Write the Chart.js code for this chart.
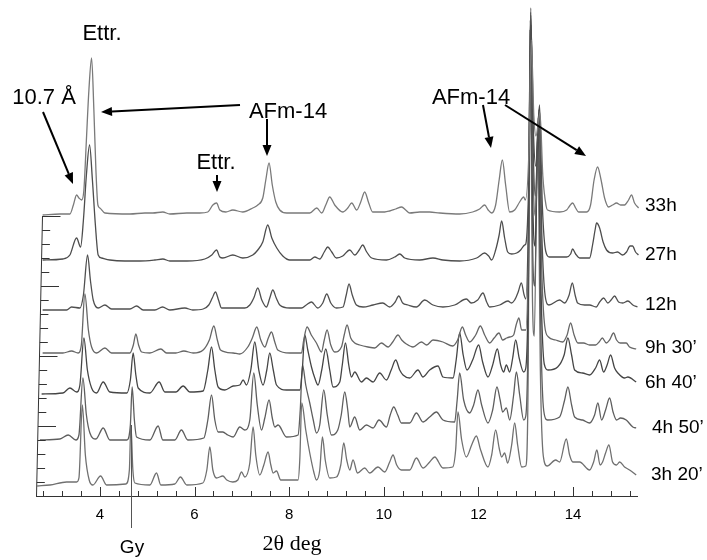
<!DOCTYPE html>
<html><head><meta charset="utf-8">
<script src="https://cdn.jsdelivr.net/npm/chart.js@4/dist/chart.umd.min.js"></script>
<style>html,body{margin:0;padding:0;background:#fff}#wrap{width:707px;height:560px}</style>
</head><body><div id="wrap"><canvas id="c"></canvas></div>
<script>
// ---- data: 2θ (deg) vs stacked intensity (a.u.) ----
const seriesNames = ["33h", "27h", "12h", "9h 30\u2019", "6h 40\u2019", "4h 50\u2019", "3h 20\u2019"];

const trace33h = [[2.79,281],[3.155,282],[3.366,282],[3.44,291],[3.508,301],[3.557,298],[3.614,296],[3.662,306],[3.715,356],[3.768,406],[3.825,438],[3.873,386],[3.916,326],[3.958,291],[4.0,288],[4.106,283],[4.634,282],[4.951,283],[5.119,283],[5.33,284],[5.478,282],[5.837,283],[6.111,283],[6.281,284],[6.387,291],[6.465,293],[6.534,286],[6.661,284],[6.809,286],[7.02,284],[7.231,288],[7.337,291],[7.442,298],[7.506,316],[7.575,333],[7.643,311],[7.717,294],[7.801,286],[7.949,283],[8.435,283],[8.583,288],[8.688,283],[8.773,291],[8.857,299],[8.963,291],[9.132,284],[9.238,288],[9.322,293],[9.427,286],[9.512,294],[9.596,304],[9.681,293],[9.765,284],[10.019,284],[10.124,285],[10.251,287],[10.378,289],[10.462,286],[10.547,283],[10.758,284],[10.969,284],[11.181,283],[11.603,282],[11.877,284],[12.025,287],[12.131,291],[12.205,286],[12.279,283],[12.363,291],[12.437,316],[12.505,336],[12.574,311],[12.659,284],[12.765,286],[12.87,294],[12.955,299],[12.99,296],[13.07,350],[13.115,456],[13.17,380],[13.215,360],[13.30,383],[13.36,320],[13.43,290],[13.46,286],[13.715,284],[13.863,286],[13.926,290],[13.989,293],[14.053,288],[14.116,284],[14.285,284],[14.369,291],[14.443,316],[14.517,329],[14.591,316],[14.665,298],[14.75,289],[14.834,291],[14.918,293],[15.003,291],[15.087,291],[15.172,296],[15.235,301],[15.298,293],[15.383,288]];

const trace27h = [[2.79,236],[3.219,237],[3.366,241],[3.508,258],[3.592,249],[3.652,276],[3.715,321],[3.782,351],[3.842,316],[3.905,271],[3.964,241],[4.036,238],[4.211,236],[4.528,235],[4.845,235],[5.162,236],[5.33,237],[5.478,235],[5.837,235],[6.217,237],[6.365,241],[6.465,246],[6.534,239],[6.598,238],[6.809,241],[7.02,238],[7.231,241],[7.337,246],[7.442,254],[7.548,271],[7.633,258],[7.738,248],[7.865,240],[8.013,236],[8.435,236],[8.541,239],[8.646,237],[8.741,244],[8.815,249],[8.9,244],[8.999,238],[9.132,240],[9.28,246],[9.385,241],[9.48,246],[9.554,251],[9.639,244],[9.744,238],[10.055,236],[10.23,239],[10.336,242],[10.441,238],[10.758,236],[11.039,238],[11.25,236],[11.603,235],[11.962,238],[12.131,243],[12.215,240],[12.279,236],[12.363,246],[12.437,261],[12.49,275],[12.553,258],[12.617,244],[12.701,242],[12.807,243],[12.891,246],[12.976,251],[13.0,252],[13.065,320],[13.11,471],[13.165,360],[13.21,330],[13.29,391],[13.35,290],[13.42,245],[13.50,239],[13.863,239],[13.947,242],[13.989,247],[14.053,242],[14.137,238],[14.348,238],[14.411,251],[14.464,266],[14.496,273],[14.56,268],[14.634,254],[14.707,246],[14.834,243],[14.939,244],[15.045,241],[15.129,244],[15.203,250],[15.256,250],[15.319,244],[15.38,241]];

const trace12h = [[2.79,186],[3.297,186],[3.402,189],[3.578,188],[3.652,201],[3.74,241],[3.799,216],[3.859,196],[3.964,188],[4.106,191],[4.247,187],[4.634,187],[4.775,190],[4.916,186],[5.162,186],[5.324,189],[5.478,186],[5.795,188],[5.964,186],[6.182,187],[6.301,191],[6.375,198],[6.443,204],[6.507,196],[6.57,188],[6.745,188],[7.062,188],[7.168,191],[7.252,198],[7.337,208],[7.421,196],[7.52,189],[7.59,198],[7.654,206],[7.727,198],[7.801,191],[8.013,188],[8.26,188],[8.361,191],[8.471,194],[8.604,188],[8.71,193],[8.794,202],[8.879,193],[8.999,188],[9.138,189],[9.206,201],[9.265,212],[9.333,201],[9.421,191],[9.561,189],[9.773,191],[9.977,193],[10.124,189],[10.24,194],[10.315,200],[10.399,193],[10.511,191],[10.688,189],[10.864,196],[11.039,191],[11.25,189],[11.497,191],[11.744,197],[11.848,193],[11.983,196],[12.095,203],[12.173,194],[12.236,189],[12.448,191],[12.624,195],[12.695,193],[12.765,196],[12.839,204],[12.906,213],[12.965,201],[13.0,197],[13.06,290],[13.105,481],[13.16,340],[13.20,300],[13.28,383],[13.34,260],[13.41,200],[13.49,191],[13.715,196],[13.821,193],[13.916,201],[13.983,213],[14.042,201],[14.095,193],[14.243,191],[14.348,191],[14.489,189],[14.56,194],[14.644,198],[14.735,193],[14.802,196],[14.876,200],[14.96,194],[15.052,193],[15.157,195],[15.262,191],[15.36,189]];

const trace9h30 = [[2.79,143],[3.219,143],[3.402,145],[3.541,143],[3.608,151],[3.683,202],[3.757,166],[3.825,149],[3.93,143],[4.106,148],[4.247,143],[4.634,143],[4.707,151],[4.76,162],[4.817,151],[4.881,144],[5.056,143],[5.288,147],[5.409,143],[5.605,143],[5.774,145],[5.971,143],[6.182,146],[6.313,156],[6.408,170],[6.482,156],[6.549,146],[6.816,143],[6.957,142],[7.126,149],[7.221,158],[7.316,169],[7.4,156],[7.485,149],[7.559,158],[7.626,164],[7.696,154],[7.759,146],[8.013,143],[8.26,143],[8.308,156],[8.378,169],[8.467,161],[8.576,153],[8.682,144],[8.741,156],[8.801,166],[8.879,151],[8.963,144],[9.104,149],[9.163,161],[9.223,171],[9.301,158],[9.385,153],[9.491,151],[9.666,149],[9.807,148],[9.949,153],[10.089,149],[10.188,154],[10.3,161],[10.378,156],[10.477,152],[10.617,149],[10.794,154],[10.906,151],[11.039,156],[11.25,154],[11.455,150],[11.56,156],[11.66,169],[11.729,161],[11.814,154],[11.941,161],[12.04,170],[12.131,161],[12.236,153],[12.331,158],[12.433,163],[12.511,156],[12.596,158],[12.659,159],[12.743,161],[12.796,171],[12.855,178],[12.912,166],[13.0,166],[13.06,260],[13.105,488],[13.155,320],[13.20,280],[13.275,386],[13.335,230],[13.40,170],[13.48,159],[13.631,156],[13.778,154],[13.873,161],[13.947,173],[14.021,161],[14.101,153],[14.221,153],[14.348,151],[14.475,151],[14.549,154],[14.617,158],[14.701,153],[14.771,156],[14.855,163],[14.918,156],[14.996,153],[15.122,153],[15.193,149],[15.333,147]];

const trace6h40 = [[2.769,102],[3.219,103],[3.366,108],[3.508,104],[3.578,111],[3.662,158],[3.736,126],[3.825,108],[3.93,103],[4.07,114],[4.211,104],[4.57,103],[4.644,116],[4.703,143],[4.76,121],[4.809,108],[5.056,103],[5.252,114],[5.373,104],[5.605,104],[5.759,110],[5.901,104],[6.182,105],[6.281,126],[6.359,149],[6.429,126],[6.499,109],[6.64,106],[6.816,110],[6.957,111],[7.027,116],[7.098,111],[7.189,126],[7.273,154],[7.358,126],[7.449,111],[7.527,126],[7.59,143],[7.664,126],[7.732,111],[7.943,106],[8.224,106],[8.277,126],[8.329,161],[8.393,146],[8.471,129],[8.541,118],[8.61,111],[8.688,126],[8.773,147],[8.857,126],[8.927,109],[9.069,114],[9.122,131],[9.189,153],[9.259,131],[9.316,119],[9.385,124],[9.527,114],[9.632,118],[9.773,114],[9.913,123],[10.055,116],[10.156,126],[10.251,136],[10.336,126],[10.406,121],[10.547,118],[10.722,126],[10.828,119],[10.969,126],[11.144,130],[11.25,119],[11.462,118],[11.529,136],[11.603,163],[11.677,141],[11.757,126],[11.877,136],[12.004,151],[12.088,134],[12.201,119],[12.3,131],[12.399,147],[12.469,131],[12.532,124],[12.589,131],[12.659,124],[12.723,138],[12.786,156],[12.86,138],[12.955,124],[13.0,128],[13.055,220],[13.10,484],[13.15,290],[13.195,250],[13.265,368],[13.325,200],[13.39,132],[13.47,126],[13.673,129],[13.81,141],[13.89,158],[13.968,141],[14.032,126],[14.2,123],[14.348,121],[14.475,128],[14.56,136],[14.644,124],[14.718,131],[14.792,141],[14.876,128],[14.946,123],[15.087,118],[15.157,119],[15.333,114]];

const trace4h50 = [[2.733,56],[3.155,57],[3.331,61],[3.493,56],[3.557,61],[3.641,118],[3.715,81],[3.789,63],[3.916,57],[4.07,68],[4.211,56],[4.57,56],[4.644,71],[4.682,109],[4.729,76],[4.775,59],[5.056,56],[5.231,70],[5.33,56],[5.584,56],[5.723,66],[5.858,56],[6.196,58],[6.281,76],[6.359,101],[6.429,76],[6.499,64],[6.598,64],[6.704,61],[6.816,59],[6.957,69],[7.062,66],[7.168,76],[7.252,123],[7.326,91],[7.415,66],[7.485,78],[7.575,96],[7.643,78],[7.696,69],[7.766,71],[7.943,59],[8.188,61],[8.234,86],[8.281,131],[8.35,111],[8.435,93],[8.509,76],[8.576,63],[8.646,71],[8.731,106],[8.805,81],[8.893,61],[9.027,66],[9.1,81],[9.174,104],[9.238,86],[9.28,69],[9.385,79],[9.491,66],[9.632,71],[9.773,68],[9.898,76],[10.055,69],[10.135,81],[10.209,89],[10.294,81],[10.371,73],[10.547,73],[10.688,83],[10.828,74],[10.969,79],[11.111,84],[11.25,76],[11.497,74],[11.55,96],[11.603,123],[11.687,96],[11.814,83],[11.898,91],[11.989,106],[12.067,91],[12.201,73],[12.3,86],[12.39,109],[12.458,96],[12.511,84],[12.589,88],[12.659,76],[12.743,101],[12.801,124],[12.871,101],[12.955,76],[13.0,80],[13.05,170],[13.095,476],[13.145,250],[13.19,210],[13.26,378],[13.32,160],[13.38,85],[13.46,76],[13.715,79],[13.821,96],[13.89,109],[13.968,91],[14.032,79],[14.2,76],[14.348,73],[14.454,81],[14.523,93],[14.602,76],[14.686,86],[14.771,98],[14.844,84],[14.918,76],[15.003,78],[15.122,76],[15.262,69],[15.333,68]];

const trace3h20 = [[2.676,10],[2.944,11],[3.297,14],[3.508,14],[3.557,18],[3.63,91],[3.693,41],[3.774,16],[3.852,11],[4.015,20],[4.141,11],[4.549,12],[4.623,26],[4.655,71],[4.697,26],[4.739,13],[5.056,11],[5.197,23],[5.288,11],[5.584,12],[5.702,19],[5.837,11],[6.175,13],[6.26,26],[6.323,49],[6.387,26],[6.465,18],[6.598,20],[6.682,16],[6.809,14],[6.915,16],[6.993,24],[7.062,19],[7.168,33],[7.238,69],[7.294,41],[7.379,21],[7.464,31],[7.554,44],[7.612,31],[7.66,23],[7.732,25],[7.822,16],[8.188,16],[8.224,36],[8.266,93],[8.35,66],[8.435,43],[8.52,24],[8.576,16],[8.646,26],[8.703,59],[8.762,36],[8.857,18],[8.999,19],[9.09,31],[9.153,53],[9.216,36],[9.28,26],[9.35,36],[9.443,23],[9.596,28],[9.701,23],[9.877,29],[10.019,24],[10.124,34],[10.194,41],[10.272,31],[10.371,26],[10.547,26],[10.688,38],[10.828,28],[10.969,34],[11.075,39],[11.25,28],[11.455,29],[11.518,46],[11.567,84],[11.645,56],[11.744,39],[11.856,51],[11.955,60],[12.046,46],[12.201,29],[12.279,41],[12.363,66],[12.437,48],[12.49,39],[12.553,43],[12.617,33],[12.701,51],[12.765,73],[12.828,51],[12.913,29],[13.0,30],[13.05,120],[13.09,466],[13.14,200],[13.18,160],[13.25,371],[13.31,120],[13.37,40],[13.45,30],[13.631,36],[13.715,34],[13.856,57],[13.926,41],[13.995,34],[14.137,34],[14.348,26],[14.433,34],[14.502,46],[14.57,31],[14.623,34],[14.686,43],[14.756,51],[14.834,34],[14.918,31],[14.982,34],[15.087,29],[15.193,26],[15.333,21]];

const traces = [trace33h, trace27h, trace12h, trace9h30, trace6h40, trace4h50, trace3h20];

// axis ticks
const xMinorTicks = [2.8,3.2,3.6,4,4.4,4.8,5.2,5.6,6,6.4,6.8,7.2,7.6,8,8.4,8.8,9.2,9.6,10,10.4,10.8,11.2,11.6,12,12.4,12.8,13.2,13.6,14,14.4,14.8,15.2];
const xMajorTicks = [4,6,8,10,12,14];
const yTicks = [0,14,28,42,56,70,84,98,112,126,140,154,168,182,196,210,224,238,252,266,280];
const yMajorTicks = [0,70,140,210,280];
const gyPosition = 4.655;
const gyPeakValue = 71;

// ---- styles ----
const lineColors = ['#7a7a7a','#4d4d4d','#505050','#666666','#454545','#5e5e5e','#707070'];
const SANS = '"Liberation Sans", Arial, Helvetica, sans-serif';
const SERIF = '"Liberation Serif", "Times New Roman", serif';

function arrow(ctx, x1, y1, x2, y2) {
  const a = Math.atan2(y2 - y1, x2 - x1), L = 11, W = 4.5;
  const bx = x2 - L * Math.cos(a), by = y2 - L * Math.sin(a);
  ctx.beginPath(); ctx.moveTo(x1, y1); ctx.lineTo(bx, by); ctx.stroke();
  ctx.beginPath();
  ctx.moveTo(x2, y2);
  ctx.lineTo(bx + W * Math.sin(a), by - W * Math.cos(a));
  ctx.lineTo(bx - W * Math.sin(a), by + W * Math.cos(a));
  ctx.closePath(); ctx.fill();
}

const decor = {
  id: 'decor',
  afterDraw(chart) {
    const {ctx, chartArea} = chart;
    const xs = chart.scales.x, ys = chart.scales.y;
    const y0 = ys.getPixelForValue(0);
    ctx.save();
    // x ticks (pointing up)
    ctx.strokeStyle = '#333'; ctx.lineWidth = 1;
    xMinorTicks.forEach(v => {
      const px = Math.round(xs.getPixelForValue(v)) + 0.5;
      const major = xMajorTicks.some(m => Math.abs(m - v) < 1e-6);
      ctx.beginPath(); ctx.moveTo(px, y0); ctx.lineTo(px, y0 - (major ? 9 : 5)); ctx.stroke();
    });
    // y axis (slightly slanted, as in stacked plot)
    const left = chartArea.left + 0.5;
    const yTop = ys.getPixelForValue(yTicks[yTicks.length - 1]);
    const slant = 6;
    ctx.beginPath(); ctx.moveTo(left, y0); ctx.lineTo(left + slant, yTop); ctx.stroke();
    yTicks.forEach(v => {
      const py = Math.round(ys.getPixelForValue(v)) + 0.5;
      const px = left + slant * v / yTicks[yTicks.length - 1];
      const major = yMajorTicks.includes(v);
      ctx.beginPath(); ctx.moveTo(px, py); ctx.lineTo(px + (major ? 18 : 8), py); ctx.stroke();
    });
    // Gy marker line
    const gx = Math.round(xs.getPixelForValue(gyPosition)) + 0.5;
    ctx.strokeStyle = '#555';
    ctx.beginPath(); ctx.moveTo(gx, ys.getPixelForValue(gyPeakValue)); ctx.lineTo(gx, y0 + 32); ctx.stroke();

    // texts
    ctx.fillStyle = '#000';
    ctx.textBaseline = 'alphabetic';
    ctx.textAlign = 'center';
    ctx.font = '22px ' + SANS;
    ctx.fillText('Ettr.', 102, 39.5);
    ctx.fillText('10.7 \u00C5', 44, 103.5);
    ctx.fillText('AFm-14', 288, 117.5);
    ctx.fillText('Ettr.', 216, 168.5);
    ctx.fillText('AFm-14', 471, 103.5);
    ctx.font = '19px ' + SANS;
    ctx.fillText('Gy', 132, 553);
    ctx.font = '22px ' + SERIF;
    ctx.fillText('2\u03B8 deg', 292, 550);
    // series labels
    ctx.textAlign = 'left';
    ctx.font = '19px ' + SANS;
    const lab = [[645,211],[645,260],[645,310],[645,353],[645,388],[652,433],[651,480]];
    seriesNames.forEach((n, i) => ctx.fillText(n, lab[i][0], lab[i][1]));

    // arrows
    ctx.strokeStyle = '#000'; ctx.lineWidth = 2;
    arrow(ctx, 43, 112, 73, 184);
    arrow(ctx, 240, 105, 101, 112);
    arrow(ctx, 267, 119, 267, 156);
    arrow(ctx, 217, 175, 217, 192);
    arrow(ctx, 483, 105, 491, 148);
    arrow(ctx, 505, 105, 586, 156);
    ctx.restore();
  }
};

new Chart(document.getElementById('c'), {
  type: 'line',
  data: {
    datasets: traces.map((t, i) => ({
      label: seriesNames[i],
      data: t,
      borderColor: lineColors[i],
      borderWidth: 1.3,
      pointRadius: 0,
      fill: false,
      cubicInterpolationMode: 'monotone',
      clip: false
    }))
  },
  options: {
    responsive: true,
    maintainAspectRatio: false,
    animation: false,
    layout: { padding: { left: 36, right: 70, top: 6, bottom: 24 } },
    plugins: { legend: { display: false }, tooltip: { enabled: false } },
    scales: {
      x: {
        type: 'linear', min: 2.65, max: 15.35,
        afterBuildTicks: s => { s.ticks = xMajorTicks.map(v => ({ value: v })); },
        afterFit: s => { s.height = 40; },
        grid: { display: false, drawTicks: false },
        border: { display: true, color: '#333', width: 1 },
        ticks: { color: '#000', font: { family: SANS, size: 15 }, padding: 10, maxRotation: 0, autoSkip: false,
                 callback: v => String(v) }
      },
      y: { type: 'linear', min: 0, max: 490, display: false }
    }
  },
  plugins: [decor]
});
</script>
</body></html>
